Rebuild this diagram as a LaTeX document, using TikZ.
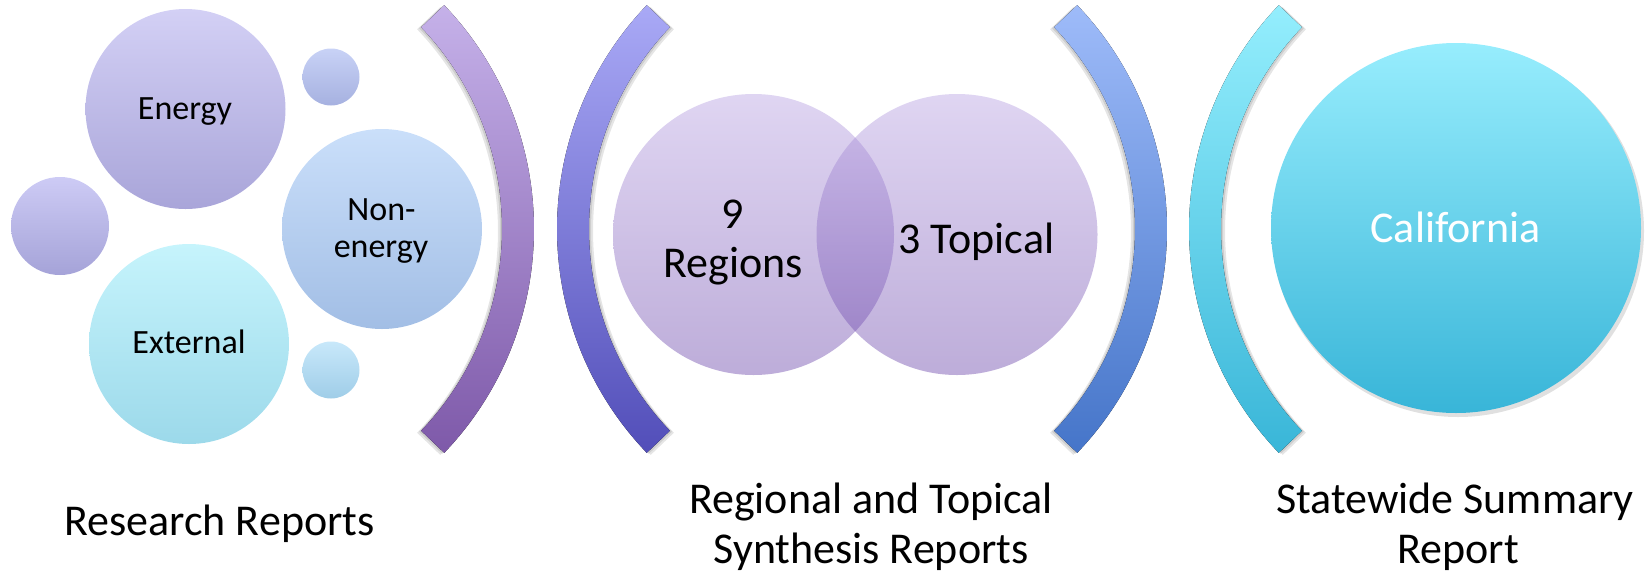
\documentclass[tikz,border=0pt]{standalone}
\usepackage{fontspec}
\setmainfont{Carlito}
\definecolor{enT}{HTML}{D3D0F5}\definecolor{enB}{HTML}{A9A5D9}
\definecolor{slT}{HTML}{CDCBF5}\definecolor{slB}{HTML}{A5A3D8}
\definecolor{stT}{HTML}{C8D2F6}\definecolor{stB}{HTML}{A6B1E0}
\definecolor{neT}{HTML}{CADFFA}\definecolor{neB}{HTML}{A2BEE5}
\definecolor{exT}{HTML}{C6F4FC}\definecolor{exB}{HTML}{9CD9EA}
\definecolor{sbT}{HTML}{C8E8FA}\definecolor{sbB}{HTML}{9FCDE8}
\definecolor{aaT}{HTML}{C5B1E9}\definecolor{aaB}{HTML}{7E59A9}
\definecolor{abT}{HTML}{A9A9F6}\definecolor{abB}{HTML}{524EB9}
\definecolor{acT}{HTML}{9EBBF9}\definecolor{acB}{HTML}{4575C9}
\definecolor{adT}{HTML}{94EEFD}\definecolor{adB}{HTML}{39B6D8}
\definecolor{vnT}{HTML}{B39BE0}\definecolor{vnB}{HTML}{623BA5}
\definecolor{caT}{HTML}{97EDFD}\definecolor{caB}{HTML}{38B5D8}
\begin{document}
\begin{tikzpicture}[x=1pt,y=1pt,
  bubble/.style={circle, inner sep=0pt, draw=none},
  lbl/.style={anchor=base, inner sep=0pt, font=\fontsize{44}{50}\selectfont},
  slbl/.style={anchor=base, inner sep=0pt, font=\fontsize{34}{40}\selectfont},
  shd/.style={fill=black, fill opacity=0.10},
  venn/.style={bubble, minimum size=281pt, top color=vnT, bottom color=vnB, fill opacity=0.42}
]
\useasboundingbox (0,0) rectangle (1652,-574);

% ---- left group of circles
\node[bubble, minimum size=200pt, top color=enT, bottom color=enB] (energy) at (185.5,-109) {};
\node[bubble, minimum size=57pt, top color=stT, bottom color=stB] (smalltop) at (331,-77) {};
\node[bubble, minimum size=98pt, top color=slT, bottom color=slB] (smallleft) at (60,-226) {};
\node[bubble, minimum size=200pt, top color=neT, bottom color=neB] (nonenergy) at (382,-229) {};
\node[bubble, minimum size=200pt, top color=exT, bottom color=exB] (external) at (189,-344) {};
\node[bubble, minimum size=57pt, top color=sbT, bottom color=sbB] (smallbot) at (331,-370) {};

\node[slbl] (tenergy) at (185,-119) {Energy};
\node[slbl] (tnon) at (381.5,-220) {Non-};
\node[slbl] (tnon2) at (381,-257) {energy};
\node[slbl] (text) at (189,-353) {External};

% ---- arc shadows
\foreach \s in {2,4}{
\fill[shd] ([shift={(-43.7:324)}]210-\s,-229-\s/2) arc[start angle=-43.7, end angle=43.7, radius=324] -- ([shift={(43.7:292)}]210-\s,-229-\s/2) arc[start angle=43.7, end angle=-43.7, radius=292] -- cycle;
\fill[shd] ([shift={(136.3:324)}]881+\s,-229-\s/2) arc[start angle=136.3, end angle=223.7, radius=324] -- ([shift={(223.7:292)}]881+\s,-229-\s/2) arc[start angle=223.7, end angle=136.3, radius=292] -- cycle;
\fill[shd] ([shift={(-43.7:324)}]843-\s,-229-\s/2) arc[start angle=-43.7, end angle=43.7, radius=324] -- ([shift={(43.7:292)}]843-\s,-229-\s/2) arc[start angle=43.7, end angle=-43.7, radius=292] -- cycle;
\fill[shd] ([shift={(136.3:324)}]1513+\s,-229-\s/2) arc[start angle=136.3, end angle=223.7, radius=324] -- ([shift={(223.7:292)}]1513+\s,-229-\s/2) arc[start angle=223.7, end angle=136.3, radius=292] -- cycle;
}
% ---- arcs
\fill[top color=aaT, bottom color=aaB] ([shift={(-43.7:324)}]210,-229) arc[start angle=-43.7, end angle=43.7, radius=324] -- ([shift={(43.7:292)}]210,-229) arc[start angle=43.7, end angle=-43.7, radius=292] -- cycle;
\fill[top color=abT, bottom color=abB] ([shift={(136.3:324)}]881,-229) arc[start angle=136.3, end angle=223.7, radius=324] -- ([shift={(223.7:292)}]881,-229) arc[start angle=223.7, end angle=136.3, radius=292] -- cycle;
\fill[top color=acT, bottom color=acB] ([shift={(-43.7:324)}]843,-229) arc[start angle=-43.7, end angle=43.7, radius=324] -- ([shift={(43.7:292)}]843,-229) arc[start angle=43.7, end angle=-43.7, radius=292] -- cycle;
\fill[top color=adT, bottom color=adB] ([shift={(136.3:324)}]1513,-229) arc[start angle=136.3, end angle=223.7, radius=324] -- ([shift={(223.7:292)}]1513,-229) arc[start angle=223.7, end angle=136.3, radius=292] -- cycle;

% ---- Venn
\node[venn] (regions) at (753.5,-234.5) {};
\node[venn] (topical) at (957,-234.5) {};
\node[lbl] (tnine) at (733,-228) {9};
\node[lbl] (tregions) at (733.5,-277) {Regions};
\node[lbl] (ttopical) at (976.5,-253) {3 Topical};

% ---- California
\fill[black, fill opacity=0.12] (1458,-231) circle[radius=186];
\node[bubble, minimum size=370pt, top color=caT, bottom color=caB] (california) at (1456,-228) {};
\node[lbl, text=white] (tcal) at (1455.5,-242) {California};

% ---- bottom labels
\node[lbl] (lresearch) at (219.5,-535) {Research Reports};
\node[lbl] (lreg1) at (871,-513) {Regional and Topical};
\node[lbl] (lreg2) at (871,-563) {Synthesis Reports};
\node[lbl] (lstate1) at (1455,-513) {Statewide Summary};
\node[lbl] (lstate2) at (1458,-563) {Report};
\end{tikzpicture}
\end{document}
